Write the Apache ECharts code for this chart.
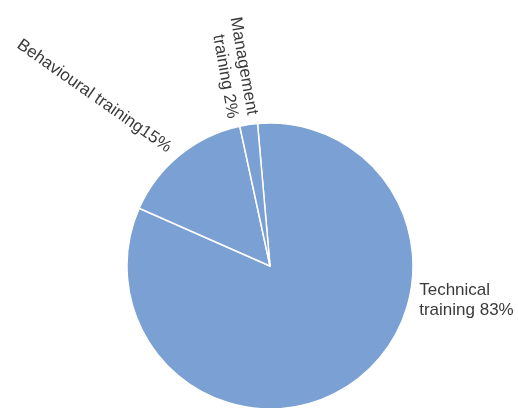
<!DOCTYPE html>
<html>
<head>
<meta charset="utf-8">
<style>
  html, body { margin: 0; padding: 0; background: #ffffff; }
  #chart { width: 518px; height: 408px; }
</style>
<script src="https://cdn.jsdelivr.net/npm/echarts@6/dist/echarts.min.js"></script>
</head>
<body>
<div id="chart"></div>
<script>
// Share of training by type (%)
const categories = ['Technical training', 'Behavioural training', 'Management training'];
const shares = [83, 15, 2];
// Text shown before each percentage
const labelPrefixes = ['Technical\ntraining ', 'Behavioural training', 'Management\ntraining '];

// Pie geometry (px)
const CX = 270, CY = 266, R = 143;

// Rotation of each label's text (degrees, counter-clockwise)
const labelRotations = [0, -35, -80];

const chart = echarts.init(document.getElementById('chart'), null, { renderer: 'canvas' });

const data = categories.map((name, i) => ({
  name: name,
  value: shares[i],
  label: { rotate: labelRotations[i], formatter: labelPrefixes[i] + shares[i] + '%' }
}));

chart.setOption({
  animation: false,
  series: [{
    type: 'pie',
    center: [CX, CY],
    radius: R,
    startAngle: 95,
    clockwise: true,
    avoidLabelOverlap: false,
    itemStyle: { color: '#7ba0d3', borderColor: '#ffffff', borderWidth: 1.5 },
    label: {
      show: true,
      position: 'outside',
      color: '#3a3a3a',
      fontFamily: 'Liberation Sans, Arial, sans-serif',
      fontSize: 17,
      lineHeight: 20,
      overflow: 'none'
    },
    labelLine: { show: false, length: 8, length2: 0 },
    emphasis: { disabled: true },
    // The large slice's label sits just right of the pie, slightly below its centre line
    labelLayout: function (params) {
      if (params.dataIndex !== 0) return {};
      const a = 12.8 * Math.PI / 180;
      const d = R + 10;
      return { x: CX + d * Math.cos(a), y: CY + d * Math.sin(a), align: 'left', verticalAlign: 'middle' };
    },
    data: data
  }]
});
</script>
</body>
</html>
